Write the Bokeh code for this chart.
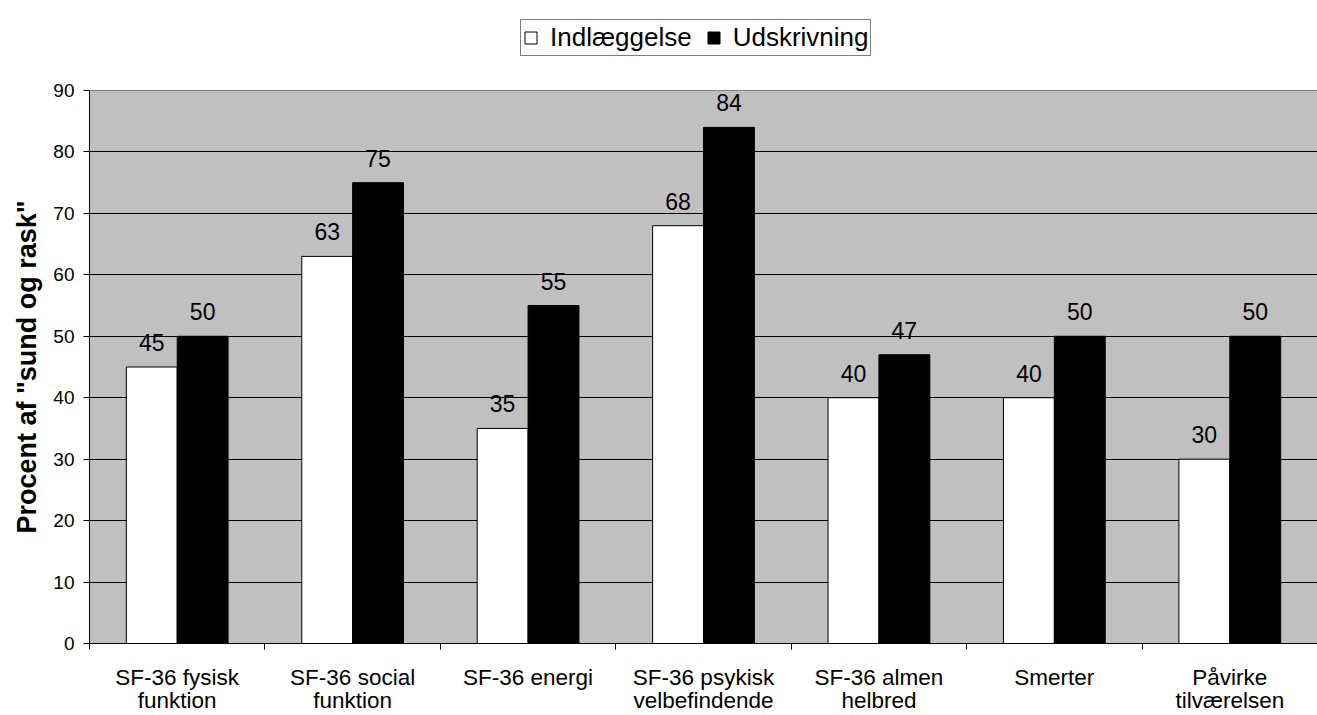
from bokeh.plotting import figure
from bokeh.models import (Range1d, FixedTicker, ColumnDataSource, LabelSet,
                          Legend, LegendItem, BoxAnnotation, Span, Title)
from bokeh.transform import dodge
from bokeh.core.properties import value
from bokeh.embed import file_html
from bokeh.resources import INLINE
import numpy as np

categories = ["SF-36 fysisk\nfunktion", "SF-36 social\nfunktion", "SF-36 energi",
              "SF-36 psykisk\nvelbefindende", "SF-36 almen\nhelbred", "Smerter",
              "Påvirke\ntilværelsen"]
indlaeggelse = [45, 63, 35, 68, 40, 40, 30]
udskrivning = [50, 75, 55, 84, 47, 50, 50]
y_ticks = [0, 10, 20, 30, 40, 50, 60, 70, 80, 90]
series_names = ["Indlæggelse", "Udskrivning"]
y_title = 'Procent af "sund og rask"'

FONT = "Liberation Sans"

# layout (pixels)
W, H = 1317, 715
FRAME_TOP = 4          # top of the drawing frame (legend lives inside it)
PLOT_TOP = 90          # where the value axis maximum sits
PLOT_BOTTOM = 643      # where the value axis zero sits
LEFT = 88
LEG_LEFT, LEG_BOTTOM = 519, 56
Y_TITLE_START = 110    # distance of the axis title's start above the zero line

n = len(categories)
centers = list(np.arange(n) + 0.5)
bounds = list(np.arange(n + 1).astype(float))
ymax = max(y_ticks)
y_top = ymax * (PLOT_BOTTOM - FRAME_TOP) / (PLOT_BOTTOM - PLOT_TOP)

src = ColumnDataSource(dict(
    x=centers,
    a=indlaeggelse,
    b=udskrivning,
    a_txt=[str(v) for v in indlaeggelse],
    b_txt=[str(v) for v in udskrivning],
))

p = figure(width=W, height=H, output_backend="svg", toolbar_location=None,
           x_range=Range1d(0, n), y_range=Range1d(0, y_top),
           min_border_left=LEFT, min_border_right=0, min_border_top=FRAME_TOP,
           min_border_bottom=H - PLOT_BOTTOM)

p.background_fill_color = "white"
p.border_fill_color = "white"
p.outline_line_color = None

# grey plot area from 0 to the axis maximum
p.add_layout(BoxAnnotation(bottom=0, top=ymax, fill_color="#c0c0c0", fill_alpha=1,
                           line_color=None, level="image"))

r1 = p.vbar(x=dodge("x", -0.145, range=p.x_range), top="a", width=0.29, source=src,
            fill_color="white", line_color="black", line_width=1)
r2 = p.vbar(x=dodge("x", 0.145, range=p.x_range), top="b", width=0.29, source=src,
            fill_color="black", line_color="black", line_width=1)

for col, txt, off in (("a", "a_txt", -0.145), ("b", "b_txt", 0.145)):
    lbl = LabelSet(x=dodge("x", off, range=p.x_range), y=col, text=txt, source=src,
                   text_align="center", text_baseline="alphabetic", y_offset=16,
                   text_font=value(FONT), text_font_size=value("23px"),
                   text_color="black")
    p.add_layout(lbl)

# x axis: labels at category centres, tick marks at boundaries
xt = FixedTicker(ticks=centers, minor_ticks=bounds)
p.xaxis.ticker = xt
p.xaxis.major_label_overrides = {c: lab for c, lab in zip(centers, categories)}
p.xaxis.major_tick_line_color = None
p.xaxis.major_tick_out = 0
p.xaxis.major_tick_in = 0
p.xaxis.minor_tick_line_color = "black"
p.xaxis.minor_tick_out = 6
p.xaxis.minor_tick_in = 0
p.xaxis.axis_line_color = "black"
p.xaxis.major_label_text_font = FONT
p.xaxis.major_label_text_font_size = "22.5px"
p.xaxis.major_label_text_line_height = 0.93
p.xaxis.major_label_text_color = "black"
p.xaxis.major_label_standoff = 15
p.xgrid.visible = False

p.yaxis.ticker = FixedTicker(ticks=y_ticks)
p.yaxis.bounds = (0, ymax)
p.yaxis.major_tick_out = 6
p.yaxis.major_tick_in = 0
p.yaxis.minor_tick_line_color = None
p.yaxis.major_tick_line_color = "black"
p.yaxis.axis_line_color = "black"
p.yaxis.major_label_text_font = FONT
p.yaxis.major_label_text_font_size = "19px"
p.yaxis.major_label_text_color = "black"
p.yaxis.major_label_standoff = 9
p.ygrid.grid_line_color = "black"
p.ygrid.grid_line_width = 1

# value-axis title, placed along the grey plot area
p.add_layout(Title(text=y_title, align="left", offset=Y_TITLE_START,
                   text_font=FONT, text_font_size="27px", text_font_style="bold",
                   text_color="black", standoff=18), "left")

# grey top border of the plot area
p.add_layout(Span(location=ymax, dimension="width", line_color="#808080", line_width=1))

legend = Legend(items=[LegendItem(label=series_names[0], renderers=[r1]),
                       LegendItem(label=series_names[1], renderers=[r2])],
                orientation="horizontal",
                location=(LEG_LEFT - LEFT, PLOT_BOTTOM - LEG_BOTTOM))
legend.label_text_font = FONT
legend.label_text_font_size = "26px"
legend.label_text_color = "black"
legend.label_height = 24
legend.glyph_width = 15
legend.glyph_height = 15
legend.label_standoff = 12
legend.spacing = 14
legend.padding = 2
legend.margin = 0
legend.border_line_color = "black"
legend.border_line_width = 1
legend.background_fill_color = "white"
legend.background_fill_alpha = 1
p.add_layout(legend, "center")

open("out.html", "w").write(file_html(p, INLINE))
